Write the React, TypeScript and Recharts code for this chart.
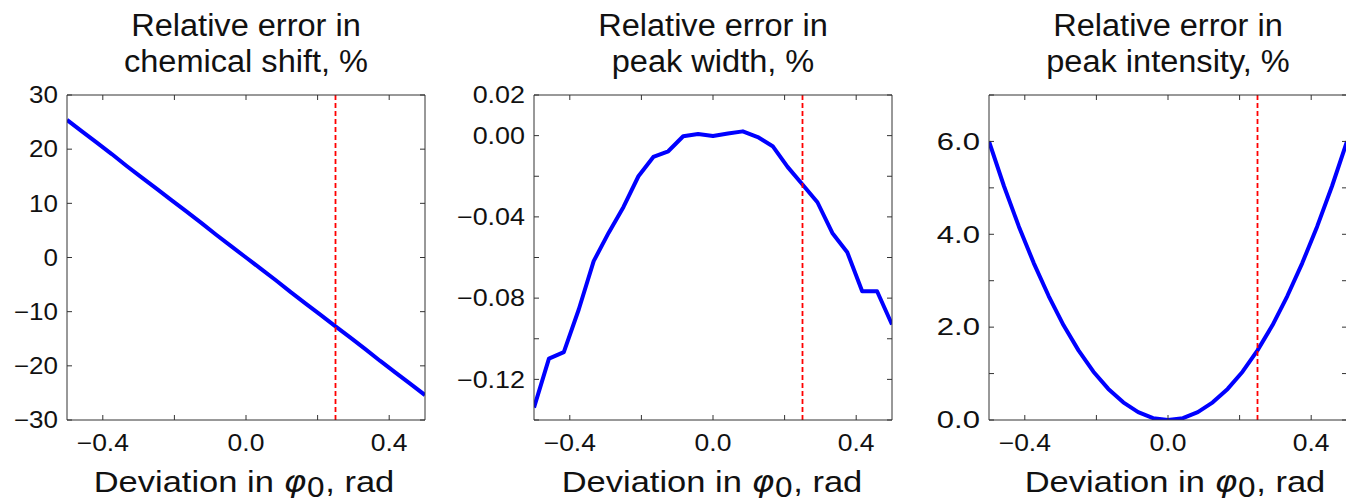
import React from 'react';
import { LineChart, Line, XAxis, YAxis, ReferenceLine } from 'recharts';

// deviation in phi0 (rad), shared by all three panels
const deviation = [
  -0.5, -0.4583, -0.4167, -0.375, -0.3333, -0.2917, -0.25, -0.2083, -0.1667, -0.125, -0.0833, -0.0417, 0,
  0.0417, 0.0833, 0.125, 0.1667, 0.2083, 0.25, 0.2917, 0.3333, 0.375, 0.4167, 0.4583, 0.5,
];

const shiftError = [
  25.4, 23.3, 21.2, 19.1, 16.9, 14.8, 12.7, 10.6, 8.5, 6.4, 4.2, 2.1, 0.0,
  -2.1, -4.2, -6.4, -8.5, -10.6, -12.7, -14.8, -16.9, -19.1, -21.2, -23.3, -25.4,
];

const widthError = [
  -0.1339, -0.1098, -0.1066, -0.0856, -0.0618, -0.0479, -0.0351, -0.02, -0.0105, -0.0077, -0.0003, 0.0008, -0.0002,
  0.001, 0.0021, -0.0007, -0.0052, -0.0154, -0.0241, -0.0328, -0.0479, -0.0574, -0.0766, -0.0766, -0.093,
];

const intensityError = [
  6.0, 5.04, 4.17, 3.38, 2.67, 2.04, 1.5, 1.04, 0.67, 0.38, 0.17, 0.04, 0.0,
  0.04, 0.17, 0.38, 0.67, 1.04, 1.5, 2.04, 2.67, 3.38, 4.17, 5.04, 6.0,
];

const xTicks = [-0.4, -0.2, 0, 0.2, 0.4];
const xLabelled = [-0.4, 0, 0.4];

const titles = [
  ['Relative error in', 'chemical shift, %'],
  ['Relative error in', 'peak width, %'],
  ['Relative error in', 'peak intensity, %'],
];

const cutoff = 0.25;

const FONT = "'Liberation Sans', Arial, Helvetica, sans-serif";
const INK = '#111';
const AXIS = '#333';
const PLOT_W = 358;
const PLOT_TOP = 95;
const PLOT_BOTTOM = 420;

const fmt = (v: number, d: number) => {
  const s = Math.abs(v).toFixed(d);
  return v < -1e-9 ? '\u2212' + s : s;
};
const has = (arr: number[], v: number) => arr.some((a) => Math.abs(a - v) < 1e-9);

const BottomTick = (p: any) => {
  const v = p.payload.value;
  if (!has(xLabelled, v)) return <g />;
  return (
    <text
      transform={`translate(${p.x},${p.y + 31}) scale(1.15,1)`}
      textAnchor="middle"
      fontSize={23}
      fontFamily={FONT}
      fill={INK}
    >
      {fmt(v, 1)}
    </text>
  );
};

const LeftTick = (p: any, labelled: number[], digits: number, sx: number) => {
  const v = p.payload.value;
  if (!has(labelled, v)) return <g />;
  return (
    <text
      transform={`translate(${p.x - 9},${p.y}) scale(${sx},1)`}
      textAnchor="end"
      dy="0.36em"
      fontSize={23}
      fontFamily={FONT}
      fill={INK}
    >
      {fmt(v, digits)}
    </text>
  );
};

type PanelProps = {
  left: number;
  values: number[];
  yDomain: [number, number];
  yTicks: number[];
  yLabelled: number[];
  digits: number;
  sx: number;
};

const Panel = ({ left, values, yDomain, yTicks, yLabelled, digits, sx }: PanelProps) => {
  const data = deviation.map((d, i) => ({ d, v: values[i] }));
  return (
    <div style={{ position: 'absolute', left: left - 80, top: 0 }}>
      <LineChart
        width={PLOT_W + 140}
        height={503}
        data={data}
        margin={{ top: PLOT_TOP - 30, right: 30, bottom: 503 - PLOT_BOTTOM - 40, left: 50 }}
      >
        <XAxis
          xAxisId="b"
          dataKey="d"
          type="number"
          domain={[-0.5, 0.5]}
          ticks={xTicks}
          allowDataOverflow
          height={40}
          stroke={AXIS}
          tickSize={-5}
          tickMargin={5}
          tick={BottomTick}
        />
        <XAxis
          xAxisId="t"
          orientation="top"
          dataKey="d"
          type="number"
          domain={[-0.5, 0.5]}
          ticks={xTicks}
          allowDataOverflow
          height={30}
          stroke={AXIS}
          tickSize={-5}
          tick={() => <g />}
        />
        <YAxis
          yAxisId="l"
          type="number"
          domain={yDomain}
          ticks={yTicks}
          allowDataOverflow
          width={30}
          stroke={AXIS}
          tickSize={-5}
          tickMargin={5}
          tick={(p: any) => LeftTick(p, yLabelled, digits, sx)}
        />
        <YAxis
          yAxisId="r"
          orientation="right"
          type="number"
          domain={yDomain}
          ticks={yTicks}
          allowDataOverflow
          width={30}
          stroke={AXIS}
          tickSize={-5}
          tick={() => <g />}
        />
        <Line
          xAxisId="b"
          yAxisId="l"
          dataKey="v"
          type="linear"
          stroke="#0000ff"
          strokeWidth={4}
          strokeLinejoin="round"
          dot={false}
          isAnimationActive={false}
        />
        <ReferenceLine
          xAxisId="b"
          yAxisId="l"
          x={cutoff}
          stroke="#ff0000"
          strokeWidth={1.8}
          strokeDasharray="5 3"
        />
      </LineChart>
    </div>
  );
};

const titleCenters = [246, 713, 1168];
const labelCenters = [244, 712, 1175];

const XLabel = ({ cx }: { cx: number }) => (
  <text
    transform={`translate(${cx},492) scale(1.15,1)`}
    textAnchor="middle"
    fontSize={30}
    fontFamily={FONT}
    fill={INK}
  >
    Deviation in{' '}
    <tspan fontFamily="'DejaVu Sans'" fontStyle="italic">φ</tspan>
    <tspan fontFamily="'DejaVu Sans'" fontSize={26} dy={5}>0</tspan>
    <tspan dy={-5}>, rad</tspan>
  </text>
);

export default function App() {
  return (
    <div
      style={{
        position: 'absolute',
        left: 0,
        top: 0,
        width: 1346,
        height: 503,
        overflow: 'hidden',
        background: '#fff',
      }}
    >
      <Panel left={67} values={shiftError} yDomain={[-30, 30]} yTicks={[30, 20, 10, 0, -10, -20, -30]}
        yLabelled={[30, 20, 10, 0, -10, -20, -30]} digits={0} sx={1.13} />
      <Panel left={534} values={widthError} yDomain={[-0.14, 0.02]}
        yTicks={[0.02, 0, -0.02, -0.04, -0.06, -0.08, -0.1, -0.12, -0.14]}
        yLabelled={[0.02, 0, -0.04, -0.08, -0.12]} digits={2} sx={1.17} />
      <Panel left={989} values={intensityError} yDomain={[0, 7]} yTicks={[0, 1, 2, 3, 4, 5, 6, 7]}
        yLabelled={[0, 2, 4, 6]} digits={1} sx={1.35} />
      <svg
        width={1346}
        height={503}
        style={{ position: 'absolute', left: 0, top: 0, pointerEvents: 'none' }}
      >
        {titles.map((t, i) => (
          <g key={i}>
            <text transform={`translate(${titleCenters[i]},36) scale(1.05,1)`} textAnchor="middle"
              fontSize={31} fontFamily={FONT} fill={INK}>{t[0]}</text>
            <text transform={`translate(${titleCenters[i]},72) scale(1.05,1)`} textAnchor="middle"
              fontSize={31} fontFamily={FONT} fill={INK}>{t[1]}</text>
            <XLabel cx={labelCenters[i]} />
          </g>
        ))}
      </svg>
    </div>
  );
}
